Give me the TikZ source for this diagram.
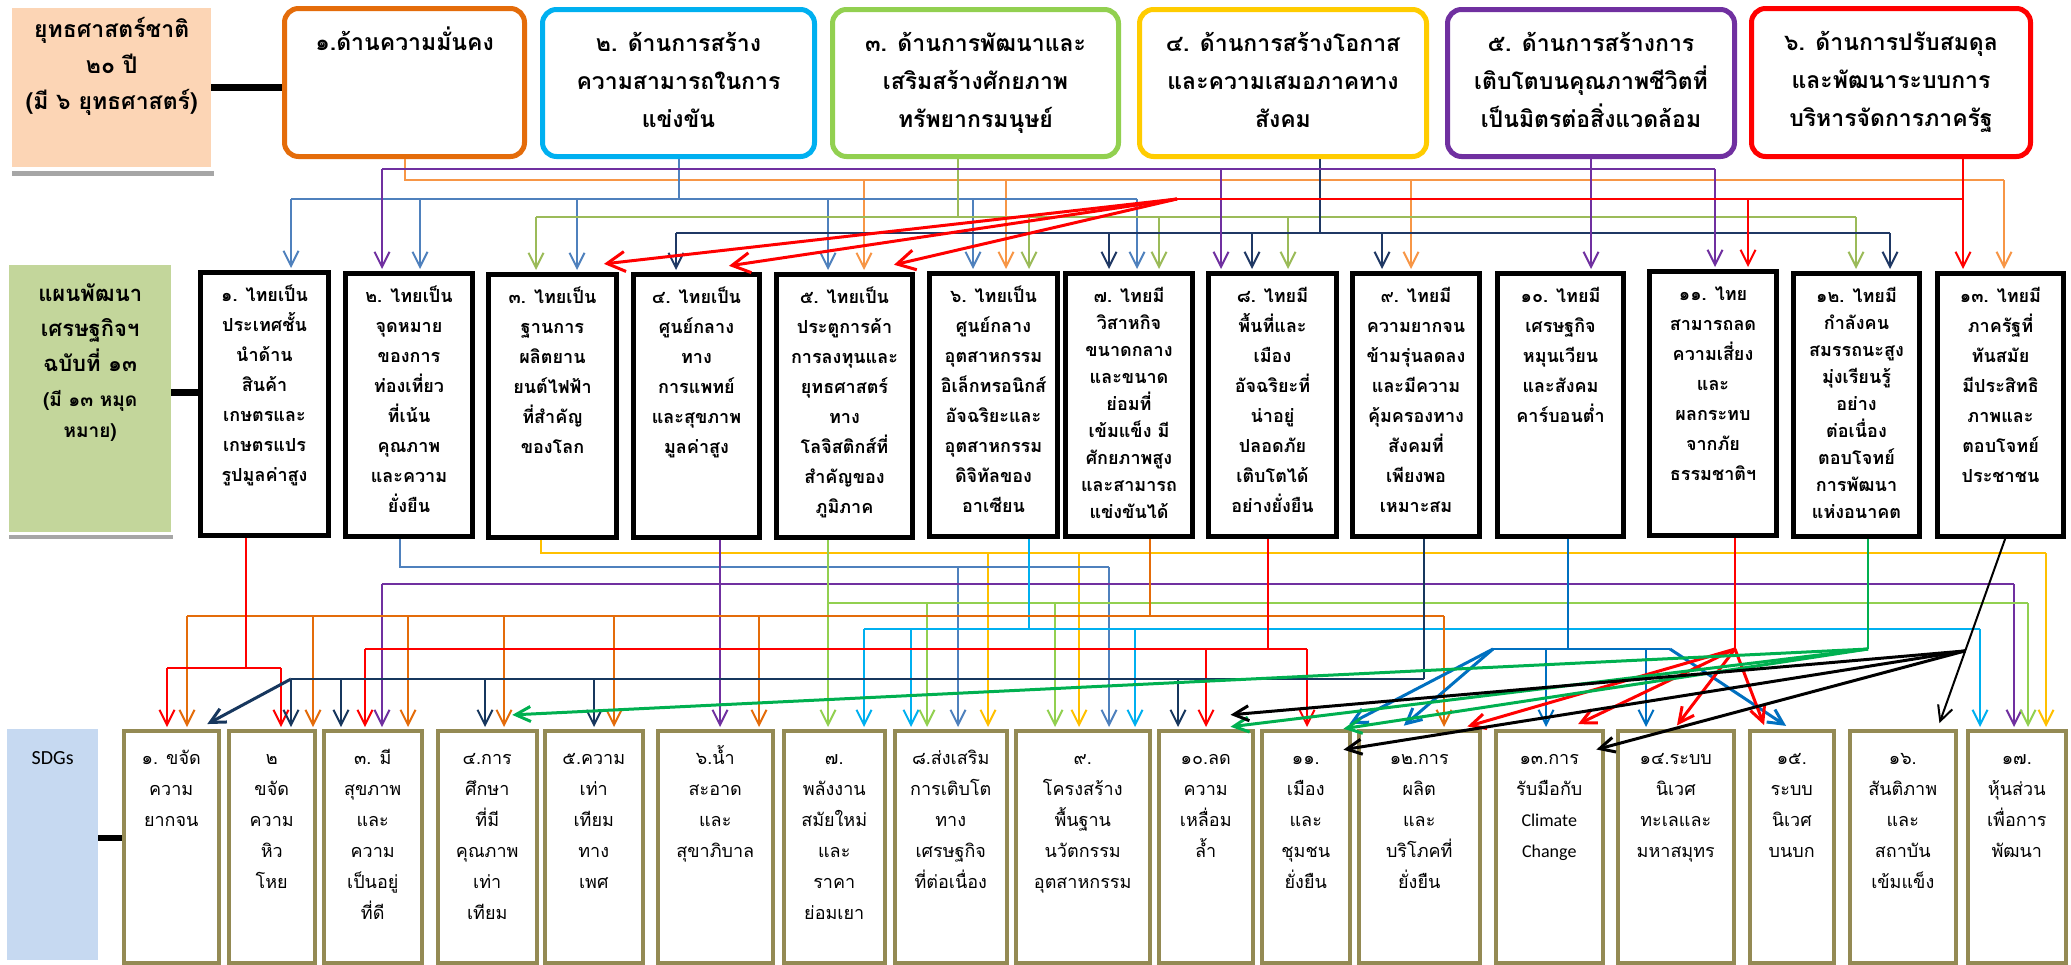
\documentclass[tikz,border=0pt]{standalone}
\usepackage{fontspec}
\setmainfont{Loma}[Script=Thai]
\newfontfamily\latfont{Carlito}
\usetikzlibrary{arrows.meta,calc}
\definecolor{cOrT}{HTML}{E46C0A}
\definecolor{cCyT}{HTML}{00B0F0}
\definecolor{cGrT}{HTML}{92D050}
\definecolor{cYeT}{HTML}{FFCC00}
\definecolor{cPu}{HTML}{7030A0}
\definecolor{cRe}{HTML}{FF0000}
\definecolor{cPeach}{HTML}{FCD5B5}
\definecolor{cSage}{HTML}{C3D69B}
\definecolor{cSky}{HTML}{C6D9F1}
\definecolor{cOlive}{HTML}{948A54}
\definecolor{lOr}{HTML}{F79646}
\definecolor{lBl}{HTML}{4F81BD}
\definecolor{lGr}{HTML}{9BBB59}
\definecolor{lNv}{HTML}{1F3864}
\definecolor{lYe}{HTML}{FFC000}
\definecolor{lLg}{HTML}{92D050}
\definecolor{lCy}{HTML}{00B0F0}
\definecolor{lOd}{HTML}{E46C0A}
\definecolor{lNvB}{HTML}{17375E}
\definecolor{lBd}{HTML}{0070C0}
\definecolor{lGd}{HTML}{00B050}
\definecolor{cShadow}{HTML}{A6A6A6}
\newcommand\fl{\rule{0pt}{1.3em}}
\newcommand\MkBx[6]{%
  \pgfmathsetmacro\bxw{#5-#3}\pgfmathsetmacro\bxh{#6-#4}%
  \node[#2, minimum width=\bxw pt, minimum height=\bxh pt, inner sep=0pt, anchor=north west] (#1) at (#3,#4) {};}
\tikzset{
 topbox/.style={draw=#1, line width=5pt, rounded corners=14pt, fill=white},
 midbox/.style={draw=black, line width=5pt, fill=white},
 botbox/.style={draw=cOlive, line width=3.5pt, fill=white},
 labbox/.style={fill=#1, draw=none},
 toptxt/.style={font=\fontsize{23}{38}\selectfont\bfseries, align=center, inner sep=0pt, anchor=north},
 midtxt/.style={font=\fontsize{18}{30}\selectfont\bfseries, align=center, inner sep=0pt, anchor=north},
 midtxtn/.style={font=\fontsize{18}{27}\selectfont\bfseries, align=center, inner sep=0pt, anchor=north},
 bottxt/.style={font=\fontsize{18}{31}\selectfont, align=center, inner sep=0pt, anchor=north},
 bar/.style={line width=7pt, black},
 conn/.style={line width=2pt, #1},
 fan/.style={line width=3pt, #1},
 tip/.style={-{Straight Barb[length=15pt,width=15pt]}, shorten >=2pt},
 bigtip/.style={-{Straight Barb[length=18pt,width=20pt]}, shorten >=1pt},
}
\begin{document}
\begin{tikzpicture}[x=1pt,y=-1pt]
\useasboundingbox (0,0) rectangle (2071,964);
\fill[white] (0,0) rectangle (2071,964);
% ---------- top row
\MkBx{S}{labbox=cPeach}{12}{8}{211}{167}
\fill[cShadow] (12,171) rectangle (214,176);
\MkBx{T1}{topbox=cOrT}{282}{6}{522}{154}
\MkBx{T2}{topbox=cCyT}{540}{7}{812}{154}
\MkBx{T3}{topbox=cGrT}{830}{7}{1116}{154}
\MkBx{T4}{topbox=cYeT}{1137}{7}{1424}{154}
\MkBx{T5}{topbox=cPu}{1445}{7}{1732}{154}
\MkBx{T6}{topbox=cRe}{1749}{6}{2028}{154}
\draw[bar] (S.east |- 0,87) -- (T1.west |- 0,87);
% ---------- middle row
\MkBx{P}{labbox=cSage}{9}{265}{171}{532}
\fill[cShadow] (9,535) rectangle (173,539);
\MkBx{M1}{midbox}{198}{270}{326}{533}
\MkBx{M2}{midbox}{343}{271}{470}{534}
\MkBx{M3}{midbox}{486}{272}{614}{535}
\MkBx{M4}{midbox}{631}{272}{757}{535}
\MkBx{M5}{midbox}{774}{272}{910}{535}
\MkBx{M6}{midbox}{927}{271}{1055}{534}
\MkBx{M7}{midbox}{1063}{271}{1190}{534}
\MkBx{M8}{midbox}{1206}{271}{1334}{534}
\MkBx{M9}{midbox}{1350}{271}{1477}{534}
\MkBx{M10}{midbox}{1495}{271}{1621}{534}
\MkBx{M11}{midbox}{1647}{269}{1774}{533}
\MkBx{M12}{midbox}{1791}{271}{1917}{534}
\MkBx{M13}{midbox}{1935}{271}{2061}{534}
\draw[bar] (P.east |- 0,392) -- (M1.west |- 0,392);
% ---------- bottom row
\MkBx{SD}{labbox=cSky}{7}{729}{98}{960}
\MkBx{B1}{botbox}{122}{729}{217}{961}
\MkBx{B2}{botbox}{227}{729}{313}{961}
\MkBx{B3}{botbox}{322}{729}{420}{961}
\MkBx{B4}{botbox}{436}{729}{535}{961}
\MkBx{B5}{botbox}{543}{729}{641}{961}
\MkBx{B6}{botbox}{656}{729}{771}{961}
\MkBx{B7}{botbox}{782}{729}{883}{961}
\MkBx{B8}{botbox}{893}{729}{1005}{961}
\MkBx{B9}{botbox}{1014}{729}{1148}{961}
\MkBx{B10}{botbox}{1157}{729}{1251}{961}
\MkBx{B11}{botbox}{1260}{729}{1348}{961}
\MkBx{B12}{botbox}{1357}{729}{1478}{961}
\MkBx{B13}{botbox}{1494}{729}{1601}{961}
\MkBx{B14}{botbox}{1616}{729}{1732}{961}
\MkBx{B15}{botbox}{1748}{729}{1832}{961}
\MkBx{B16}{botbox}{1848}{729}{1954}{961}
\MkBx{B17}{botbox}{1966}{729}{2064}{961}
\draw[bar, line width=6pt] (SD.east |- 0,838) -- (B1.west |- 0,838);
% ---------- connectors top -> middle
\draw[conn=lOr] (T1.south) |- (2004,180);
\foreach \x/\m in {864/M5,1006/M6,1411/M9,2004/M13} \draw[conn=lOr,tip] (\x,180) -- (\x,0 |- \m.north);
\draw[conn=lBl] (T2.south) -- (T2.south |- 0,199);
\draw[conn=lBl] (291,199) -- (1137,199);
\foreach \x/\m in {291/M1,420/M2,577/M3,828/M5,973/M6,1137/M7} \draw[conn=lBl,tip] (\x,199) -- (\x,0 |- \m.north);
\draw[conn=lGr] (T3.south -| 958,0) -- (958,217);
\draw[conn=lGr] (536,217) -- (1856,217);
\foreach \x/\m in {536/M3,1029/M6,1159/M7,1288/M8,1856/M12} \draw[conn=lGr,tip] (\x,217) -- (\x,0 |- \m.north);
\draw[conn=lNv] (T4.south -| 1320,0) -- (1320,233);
\draw[conn=lNv] (676,233) -- (1890,233);
\foreach \x/\m in {676/M4,1109/M7,1252/M8,1382/M9,1890/M12} \draw[conn=lNv,tip] (\x,233) -- (\x,0 |- \m.north);
\draw[conn=cPu,tip] (T5.south) -- (T5.south |- M10.north);
\draw[conn=cPu] (382,169) -- (1715,169);
\foreach \x/\m in {382/M2,1221/M8,1715/M11} \draw[conn=cPu,tip] (\x,169) -- (\x,0 |- \m.north);
\draw[conn=cRe,tip] (T6.south -| 1963,0) -- (1963,0 |- M13.north);
\coordinate (rf) at (1177,199);
\draw[conn=cRe] (rf) -- (1963,199);
\draw[conn=cRe,tip] (1748,199) -- (1748,0 |- M11.north);
\draw[fan=cRe,bigtip] (rf) -- ($(M3.north east)+(-16,-8)$);
\draw[fan=cRe,bigtip] (rf) -- ($(M4.north east)+(-34,-6)$);
\draw[fan=cRe,bigtip] (rf) -- ($(M5.north east)+(-22,-7)$);
% ---------- connectors middle -> bottom
\draw[conn=lYe] (M3.south -| 541,0) |- (2046,553);
\foreach \x/\m in {988/B8,1079/B9,2046/B17} \draw[conn=lYe,tip] (\x,553) -- (\x,0 |- \m.north);
\draw[conn=lBl] (M2.south -| 400,0) |- (1109,567);
\foreach \x/\m in {958/B8,1109/B9} \draw[conn=lBl,tip] (\x,567) -- (\x,0 |- \m.north);
\draw[conn=cPu,tip] (M4.south -| 720,0) -- (720,0 |- B6.north);
\draw[conn=cPu] (382,584) -- (2014,584);
\foreach \x/\m in {382/B3,2014/B17} \draw[conn=cPu,tip] (\x,584) -- (\x,0 |- \m.north);
\draw[conn=lLg,tip] (M5.south -| 828,0) -- (828,0 |- B7.north);
\draw[conn=lLg] (828,603) -- (2028,603);
\foreach \x/\m in {927/B8,1055/B9,2028/B17} \draw[conn=lLg,tip] (\x,603) -- (\x,0 |- \m.north);
\draw[conn=lCy] (M6.south -| 1029,0) -- (1029,629);
\draw[conn=lCy] (864,629) -- (1980,629);
\foreach \x/\m in {864/B7,911/B8,1135/B9,1980/B17} \draw[conn=lCy,tip] (\x,629) -- (\x,0 |- \m.north);
\draw[conn=lOd] (M7.south -| 1150,0) -- (1150,616);
\draw[conn=lOd] (187,616) -- (1444,616);
\foreach \x/\m in {187/B1,313/B2,408/B3,504/B4,614/B5,759/B6,1444/B12} \draw[conn=lOd,tip] (\x,616) -- (\x,0 |- \m.north);
\draw[conn=cRe] (M8.south -| 1268,0) -- (1268,649);
\draw[conn=cRe] (365,649) -- (1307,649);
\foreach \x/\m in {365/B3,1206/B10,1307/B11} \draw[conn=cRe,tip] (\x,649) -- (\x,0 |- \m.north);
\draw[conn=cRe] (M1.south -| 246,0) -- (246,668);
\draw[conn=cRe] (167,668) -- (281,668);
\foreach \x/\m in {167/B1,281/B2} \draw[conn=cRe,tip] (\x,668) -- (\x,0 |- \m.north);
\draw[conn=lNvB] (M9.south -| 1424,0) -- (1424,679);
\draw[conn=lNvB] (291,679) -- (1424,679);
\foreach \x/\m in {291/B2,341/B3,485/B4,594/B5,1178/B10} \draw[conn=lNvB,tip] (\x,679) -- (\x,0 |- \m.north);
\draw[fan=lNvB,tip] (291,679) -- ($(B1.north east)+(-15,-4)$);
\draw[conn=lBd] (M10.south -| 1568,0) -- (1568,649);
\draw[conn=lBd] (1493,649) -- (1670,649);
\foreach \x/\m in {1546/B13,1646/B14} \draw[conn=lBd,tip] (\x,649) -- (\x,0 |- \m.north);
\draw[fan=lBd,tip] (1493,649) -- ($(B11.north east)+(-4,-4)$);
\draw[fan=lBd,tip] (1493,649) -- ($(B12.north)+(-17,-2)$);
\draw[fan=lBd,tip] (1670,649) -- ($(B15.north)+(-4,-2)$);
\draw[conn=cRe] (M11.south -| 1735,0) -- (1735,649);
\coordinate (rr) at (1735,649);
\draw[fan=cRe,tip] (rr) -- ($(B12.north east)+(-16,-2)$);
\draw[fan=cRe,tip] (rr) -- ($(B13.north)+(27,-4)$);
\draw[fan=cRe,tip] (rr) -- ($(B14.north)+(0,-2)$);
\draw[fan=cRe,tip] (rr) -- ($(B15.north)+(-27,-2)$);
\draw[conn=lGd] (M12.south -| 1868,0) -- (1868,649);
\coordinate (gg) at (1868,649);
\draw[fan=lGd,tip] (gg) -- ($(B4.north)+(23,-14)$);
\draw[fan=lGd,tip] (gg) -- ($(B10.north east)+(-26,-2)$);
\draw[fan=lGd,tip] (gg) -- ($(B11.north east)+(-10,0)$);
\coordinate (k0) at ($(M13.south)+(6,-4)$);
\coordinate (k1) at ($(B16.north)+(36,-4)$);
\draw[conn=black,tip] (k0) -- (k1);
\coordinate (kf) at ($(k0)!0.61!(k1)$);
\draw[fan=black,tip] (kf) -- ($(B10.north east)+(-26,-14)$);
\draw[fan=black,tip] (kf) -- ($(B11.north east)+(-10,21)$);
\draw[fan=black,tip] (kf) -- ($(B13.north east)+(-10,21)$);
% ---------- texts top
\node[toptxt, font=\fontsize{23}{36}\selectfont\bfseries] (St) at ($(S.north)+(0,-1)$) {\fl ยุทธศาสตร์ชาติ\\๒๐ ปี\\(มี ๖ ยุทธศาสตร์)};
\node[toptxt] (T1t) at ($(T1.north)+(0,14)$) {\fl ๑.ด้านความมั่นคง};
\node[toptxt] (T2t) at ($(T2.north)+(0,14)$) {\fl ๒. ด้านการสร้าง\\ความสามารถในการ\\แข่งขัน};
\node[toptxt] (T3t) at ($(T3.north)+(0,14)$) {\fl ๓. ด้านการพัฒนาและ\\เสริมสร้างศักยภาพ\\ทรัพยากรมนุษย์};
\node[toptxt] (T4t) at ($(T4.north)+(0,14)$) {\fl ๔. ด้านการสร้างโอกาส\\และความเสมอภาคทาง\\สังคม};
\node[toptxt] (T5t) at ($(T5.north)+(0,14)$) {\fl ๕. ด้านการสร้างการ\\เติบโตบนคุณภาพชีวิตที่\\เป็นมิตรต่อสิ่งแวดล้อม};
\node[toptxt] (T6t) at ($(T6.north)+(0,14)$) {\fl ๖. ด้านการปรับสมดุล\\และพัฒนาระบบการ\\บริหารจัดการภาครัฐ};
% ---------- texts middle
\node[font=\fontsize{22}{35}\selectfont\bfseries, align=center, inner sep=0pt, anchor=north] (Pt1) at ($(P.north)+(0,8)$) {\fl แผนพัฒนา\\เศรษฐกิจฯ\\ฉบับที่ ๑๓};
\node[font=\fontsize{19}{31}\selectfont\bfseries, align=center, inner sep=0pt, anchor=north] (Pt2) at ($(P.north)+(0,117)$) {\fl (มี ๑๓ หมุด\\หมาย)};
\node[midtxt] (M1t) at ($(M1.north)+(0,8)$) {\fl ๑. ไทยเป็น\\ประเทศชั้น\\นำด้าน\\สินค้า\\เกษตรและ\\เกษตรแปร\\รูปมูลค่าสูง};
\node[midtxt] (M2t) at ($(M2.north)+(0,8)$) {\fl ๒. ไทยเป็น\\จุดหมาย\\ของการ\\ท่องเที่ยว\\ที่เน้น\\คุณภาพ\\และความ\\ยั่งยืน};
\node[midtxt] (M3t) at ($(M3.north)+(0,8)$) {\fl ๓. ไทยเป็น\\ฐานการ\\ผลิตยาน\\ยนต์ไฟฟ้า\\ที่สำคัญ\\ของโลก};
\node[midtxt] (M4t) at ($(M4.north)+(0,8)$) {\fl ๔. ไทยเป็น\\ศูนย์กลาง\\ทาง\\การแพทย์\\และสุขภาพ\\มูลค่าสูง};
\node[midtxt] (M5t) at ($(M5.north)+(0,8)$) {\fl ๕. ไทยเป็น\\ประตูการค้า\\การลงทุนและ\\ยุทธศาสตร์\\ทาง\\โลจิสติกส์ที่\\สำคัญของ\\ภูมิภาค};
\node[midtxt] (M6t) at ($(M6.north)+(0,8)$) {\fl ๖. ไทยเป็น\\ศูนย์กลาง\\อุตสาหกรรม\\อิเล็กทรอนิกส์\\อัจฉริยะและ\\อุตสาหกรรม\\ดิจิทัลของ\\อาเซียน};
\node[midtxtn] (M7t) at ($(M7.north)+(0,8)$) {\fl ๗. ไทยมี\\วิสาหกิจ\\ขนาดกลาง\\และขนาด\\ย่อมที่\\เข้มแข็ง มี\\ศักยภาพสูง\\และสามารถ\\แข่งขันได้};
\node[midtxt] (M8t) at ($(M8.north)+(0,8)$) {\fl ๘. ไทยมี\\พื้นที่และ\\เมือง\\อัจฉริยะที่\\น่าอยู่\\ปลอดภัย\\เติบโตได้\\อย่างยั่งยืน};
\node[midtxt] (M9t) at ($(M9.north)+(0,8)$) {\fl ๙. ไทยมี\\ความยากจน\\ข้ามรุ่นลดลง\\และมีความ\\คุ้มครองทาง\\สังคมที่\\เพียงพอ\\เหมาะสม};
\node[midtxt] (M10t) at ($(M10.north)+(0,8)$) {\fl ๑๐. ไทยมี\\เศรษฐกิจ\\หมุนเวียน\\และสังคม\\คาร์บอนต่ำ};
\node[midtxt] (M11t) at ($(M11.north)+(0,8)$) {\fl ๑๑. ไทย\\สามารถลด\\ความเสี่ยง\\และ\\ผลกระทบ\\จากภัย\\ธรรมชาติฯ};
\node[midtxtn] (M12t) at ($(M12.north)+(0,8)$) {\fl ๑๒. ไทยมี\\กำลังคน\\สมรรถนะสูง\\มุ่งเรียนรู้\\อย่าง\\ต่อเนื่อง\\ตอบโจทย์\\การพัฒนา\\แห่งอนาคต};
\node[midtxt] (M13t) at ($(M13.north)+(0,8)$) {\fl ๑๓. ไทยมี\\ภาครัฐที่\\ทันสมัย\\มีประสิทธิ\\ภาพและ\\ตอบโจทย์\\ประชาชน};
% ---------- texts bottom
\node[font=\latfont\fontsize{20}{24}\selectfont, inner sep=0pt, anchor=base] (SDt) at ($(SD.north)+(0,35)$) {SDGs};
\node[bottxt] (B1t) at ($(B1.north)+(0,12)$) {\fl ๑. ขจัด\\ความ\\ยากจน};
\node[bottxt] (B2t) at ($(B2.north)+(0,12)$) {\fl ๒\\ขจัด\\ความ\\หิว\\โหย};
\node[bottxt] (B3t) at ($(B3.north)+(0,12)$) {\fl ๓. มี\\สุขภาพ\\และ\\ความ\\เป็นอยู่\\ที่ดี};
\node[bottxt] (B4t) at ($(B4.north)+(0,12)$) {\fl ๔.การ\\ศึกษา\\ที่มี\\คุณภาพ\\เท่า\\เทียม};
\node[bottxt] (B5t) at ($(B5.north)+(0,12)$) {\fl ๕.ความ\\เท่า\\เทียม\\ทาง\\เพศ};
\node[bottxt] (B6t) at ($(B6.north)+(0,12)$) {\fl ๖.น้ำ\\สะอาด\\และ\\สุขาภิบาล};
\node[bottxt] (B7t) at ($(B7.north)+(0,12)$) {\fl ๗.\\พลังงาน\\สมัยใหม่\\และ\\ราคา\\ย่อมเยา};
\node[bottxt] (B8t) at ($(B8.north)+(0,12)$) {\fl ๘.ส่งเสริม\\การเติบโต\\ทาง\\เศรษฐกิจ\\ที่ต่อเนื่อง};
\node[bottxt] (B9t) at ($(B9.north)+(0,12)$) {\fl ๙.\\โครงสร้าง\\พื้นฐาน\\นวัตกรรม\\อุตสาหกรรม};
\node[bottxt] (B10t) at ($(B10.north)+(0,12)$) {\fl ๑๐.ลด\\ความ\\เหลื่อม\\ล้ำ};
\node[bottxt] (B11t) at ($(B11.north)+(0,12)$) {\fl ๑๑.\\เมือง\\และ\\ชุมชน\\ยั่งยืน};
\node[bottxt] (B12t) at ($(B12.north)+(0,12)$) {\fl ๑๒.การ\\ผลิต\\และ\\บริโภคที่\\ยั่งยืน};
\node[bottxt] (B13t) at ($(B13.north)+(0,12)$) {\fl ๑๓.การ\\รับมือกับ\\\latfont Climate\\\latfont Change};
\node[bottxt] (B14t) at ($(B14.north)+(0,12)$) {\fl ๑๔.ระบบ\\นิเวศ\\ทะเลและ\\มหาสมุทร};
\node[bottxt] (B15t) at ($(B15.north)+(0,12)$) {\fl ๑๕.\\ระบบ\\นิเวศ\\บนบก};
\node[bottxt] (B16t) at ($(B16.north)+(0,12)$) {\fl ๑๖.\\สันติภาพ\\และ\\สถาบัน\\เข้มแข็ง};
\node[bottxt] (B17t) at ($(B17.north)+(0,12)$) {\fl ๑๗.\\หุ้นส่วน\\เพื่อการ\\พัฒนา};
\end{tikzpicture}
\end{document}
